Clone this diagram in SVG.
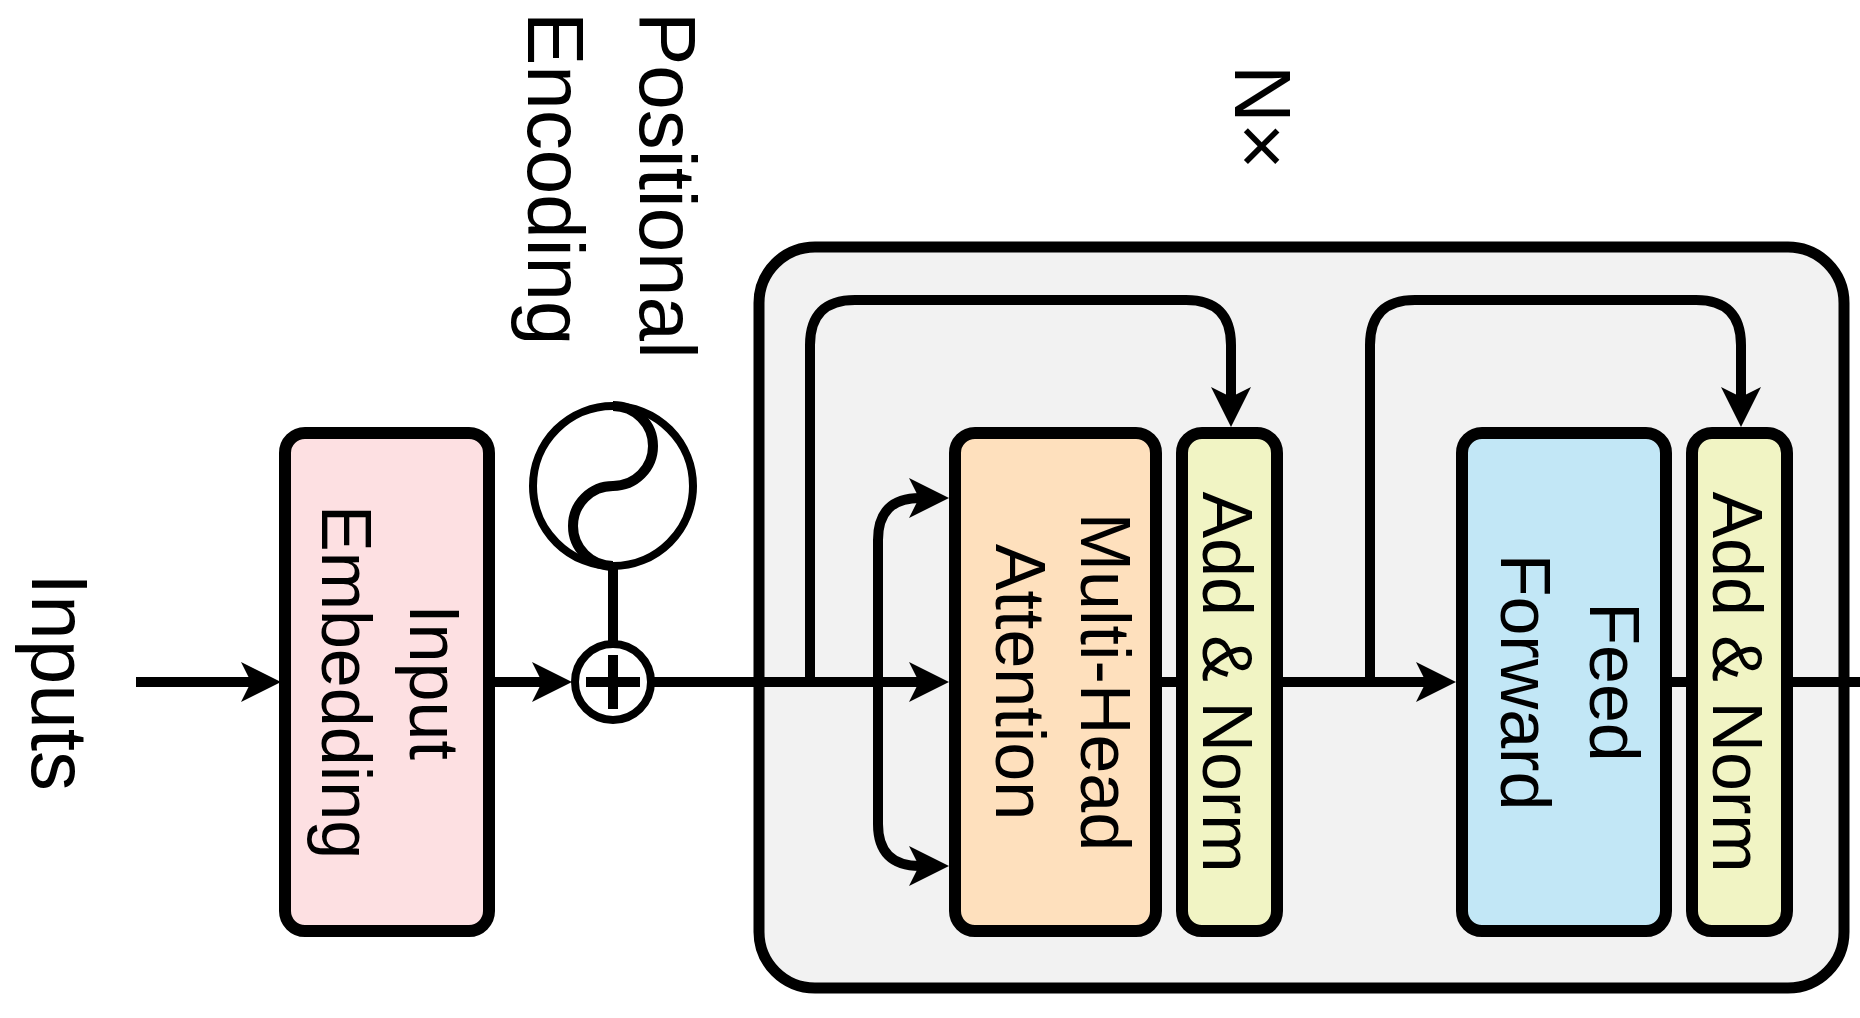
<svg xmlns="http://www.w3.org/2000/svg" width="1860" height="1018" viewBox="0 0 1860 1018">
<style>
.t{font-family:"Liberation Sans",Arial,sans-serif;fill:#000}
.lbl{font-size:80px}
.bx{font-size:70px}
.box{stroke:#000;stroke-width:12}
.ln{fill:none;stroke:#000;stroke-width:10}
</style>
<defs>
<marker id="ah" viewBox="0 -20 40 40" refX="16" refY="0" markerWidth="40" markerHeight="40" markerUnits="userSpaceOnUse" orient="auto" overflow="visible">
<path d="M40,0 L0,-20 L10,0 L0,20 Z" fill="#000"/>
</marker>
</defs>
<rect width="1860" height="1018" fill="#fff"/>
<g id="encoder-block">
<rect x="759" y="247" width="1085" height="741" rx="56" fill="#f2f2f2" stroke="#000" stroke-width="11"/>
</g>
<g id="inputs-label"><text class="t lbl" transform="translate(32,682) rotate(90)" text-anchor="middle">Inputs</text></g>
<g id="nx-label"><text class="t lbl" transform="translate(1235,65) rotate(90)">N×</text></g>
<g id="positional-label">
<text class="t lbl" transform="translate(640,12) rotate(90)">Positional</text>
<text class="t lbl" transform="translate(528,12) rotate(90)">Encoding</text>
</g>
<g id="connectors">
<line class="ln" x1="136" y1="682" x2="257" y2="682" marker-end="url(#ah)"/>
<line class="ln" x1="489" y1="682" x2="548" y2="682" marker-end="url(#ah)"/>
<line class="ln" x1="651" y1="682" x2="925" y2="682" marker-end="url(#ah)"/>
<path class="ln" d="M878,682 V540 Q878,498 920,498 H925" marker-end="url(#ah)"/>
<path class="ln" d="M878,682 V824 Q878,866 920,866 H925" marker-end="url(#ah)"/>
<line class="ln" x1="1156" y1="682" x2="1182" y2="682"/>
<line class="ln" x1="1277" y1="682" x2="1432" y2="682" marker-end="url(#ah)"/>
<line class="ln" x1="1666" y1="682" x2="1692" y2="682"/>
<line class="ln" x1="1787" y1="682" x2="1860" y2="682"/>
<path class="ln" d="M810,682 V345 Q810,300 855,300 H1186 Q1231,300 1231,345 V403" marker-end="url(#ah)"/>
<path class="ln" d="M1370,682 V345 Q1370,300 1415,300 H1696 Q1741,300 1741,345 V403" marker-end="url(#ah)"/>
<line class="ln" x1="613" y1="566" x2="613" y2="644"/>
</g>
<g id="input-embedding">
<rect class="box" x="285" y="433" width="204" height="498" rx="20" fill="#fde0e2"/>
<text class="t bx" transform="translate(410,682) rotate(90)" text-anchor="middle">Input</text>
<text class="t bx" transform="translate(322,682) rotate(90)" text-anchor="middle">Embedding</text>
</g>
<g id="positional-encoding">
<circle cx="613" cy="486" r="80" fill="#fff" stroke="#000" stroke-width="8"/>
<path class="ln" d="M613,406 A40,40 0 0 1 613,486 A40,40 0 0 0 613,566" stroke-width="8"/>
</g>
<g id="add-op">
<circle cx="613" cy="682" r="38" fill="#fff" stroke="#000" stroke-width="8"/>
<path class="ln" d="M613,655 V709 M586,682 H640" stroke-width="6"/>
</g>
<g id="multi-head-attention">
<rect class="box" x="955" y="433" width="201" height="498" rx="20" fill="#fee0bd"/>
<text class="t bx" transform="translate(1081,682) rotate(90)" text-anchor="middle">Multi-Head</text>
<text class="t bx" transform="translate(996,682) rotate(90)" text-anchor="middle">Attention</text>
</g>
<g id="add-norm-1">
<rect class="box" x="1182" y="433" width="95" height="498" rx="20" fill="#f1f4c4"/>
<text class="t bx" transform="translate(1203,682) rotate(90)" text-anchor="middle">Add &amp; Norm</text>
</g>
<g id="feed-forward">
<rect class="box" x="1462" y="433" width="204" height="498" rx="20" fill="#c2e7f6"/>
<text class="t bx" transform="translate(1590,682) rotate(90)" text-anchor="middle">Feed</text>
<text class="t bx" transform="translate(1501,682) rotate(90)" text-anchor="middle">Forward</text>
</g>
<g id="add-norm-2">
<rect class="box" x="1692" y="433" width="95" height="498" rx="20" fill="#f1f4c4"/>
<text class="t bx" transform="translate(1713,682) rotate(90)" text-anchor="middle">Add &amp; Norm</text>
</g>
</svg>
